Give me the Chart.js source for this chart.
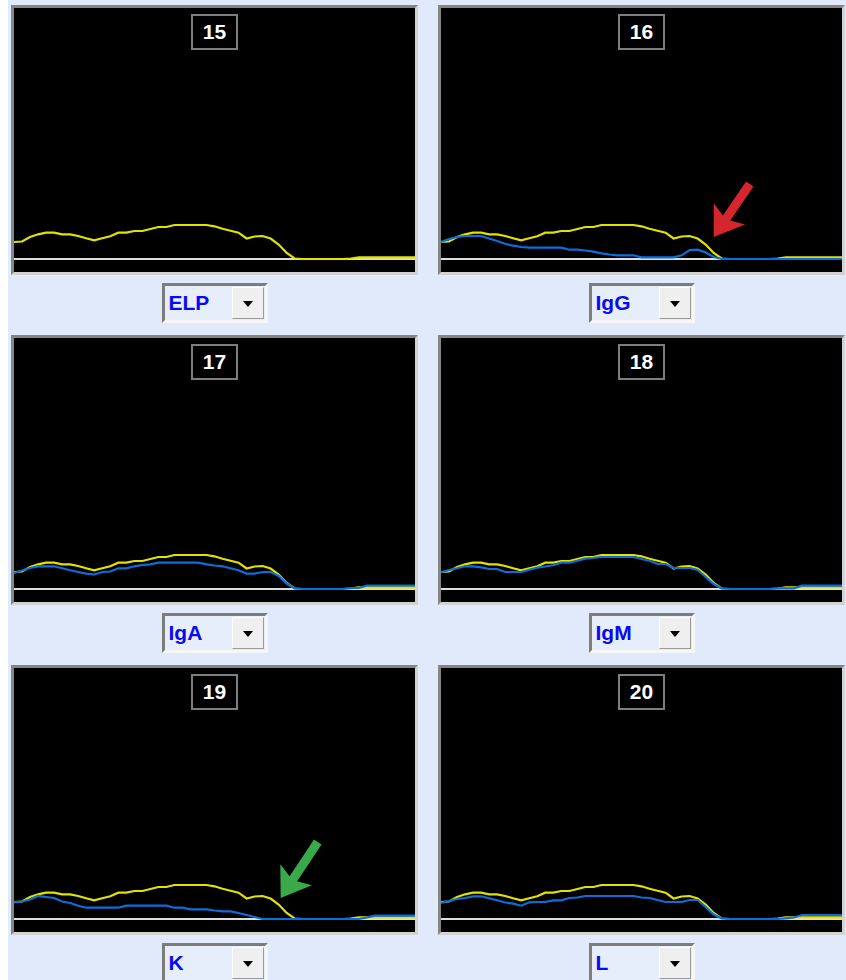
<!DOCTYPE html>
<html>
<head>
<meta charset="utf-8">
<script src="https://cdn.jsdelivr.net/npm/chart.js@4.4.1/dist/chart.umd.min.js"></script>
<style>
  html, body { margin: 0; padding: 0; background: #ffffff; }
  #board { position: absolute; left: 8px; top: 0; width: 838px; height: 980px; background: #e0eafa; overflow: hidden; }
  .frame { position: absolute; box-sizing: border-box; width: 407px; height: 270px;
           border: 3px solid; border-color: #858585 #d2d2d2 #d2d2d2 #858585; background: #000; }
  .frame canvas { position: absolute; left: 0; top: 0; }
  .num { position: absolute; top: 6px; left: 177px; width: 47px; height: 36px; box-sizing: border-box;
         border: 2px solid #7e7e7e; background: #000; color: #fff; text-align: center;
         font: bold 21px "Liberation Sans", Arial, sans-serif; line-height: 32px; }
  .select { position: absolute; width: 106px; height: 40px; box-sizing: border-box;
            border: 3px solid; border-color: #7d7d7d #f6f6f6 #f6f6f6 #7d7d7d; background: #e6eefc; }
  .select span { position: absolute; left: 4px; top: 4px; color: #0a0af0;
                 font: bold 21px "Liberation Sans", Arial, sans-serif; line-height: 26px; }
  .select .btn { position: absolute; right: 1px; top: 1px; width: 32px; height: 32px; box-sizing: border-box;
                 background: #efefef; border: 1px solid; border-color: #ffffff #9a9a9a #9a9a9a #ffffff; }
  .select .btn::after { content: ""; position: absolute; left: 10px; top: 13px; width: 0; height: 0;
                        border-left: 5px solid transparent; border-right: 5px solid transparent; border-top: 6px solid #000; }
</style>
</head>
<body>
<div id="board"></div>
<script>
// Densitometric scans along the migration axis (0 = application side, 400 = far end).
const mobility = [0, 8, 16, 24, 32, 40, 48, 56, 64, 72, 80, 88, 96, 104, 112, 120, 128, 136, 144, 152,
  160, 168, 176, 184, 192, 200, 208, 216, 224, 232, 240, 248, 256, 264, 272, 280, 288, 296, 304, 312,
  320, 328, 336, 344, 352, 360, 368, 376, 384, 392, 400];

// Reference electrophoresis (ELP) trace, overlaid in yellow on every lane.
const elpTrace = [17, 17.5, 22, 24.7, 26.3, 26.3, 24.7, 24.7, 23, 20.7, 18.7, 20.7, 22.7, 26.3, 26.3, 28, 28, 30, 32, 32,
  34, 34, 34, 34, 34, 32.7, 30.3, 28.3, 26.3, 20.5, 22.5, 23, 20.5, 14.5, 6, 0.5, 0, 0, 0, 0,
  0, 0, 0.5, 1.7, 1.7, 1.7, 1.7, 1.7, 1.7, 1.7, 1.7];

// Immunofixation lane traces (blue).
const igG = [17, 20, 22, 23, 23, 23, 20.5, 18, 15.3, 13.3, 12, 11.3, 11.3, 11.3, 11.3, 11.3, 9.3, 9.3, 8.5, 7.3,
  5.7, 4.5, 3.7, 3.7, 3.7, 1.7, 1.7, 1.7, 1.7, 1.7, 3.7, 9, 9.3, 6.5, 2, 0, 0, 0, 0, 0,
  0, 0, 0, 0, 0, 0, 0, 0, 0, 0, 0];
const igA = [16, 18.5, 21, 22.7, 22.7, 22.7, 20.7, 18.7, 17, 15.3, 14.5, 17, 17.5, 20.7, 20.7, 22.7, 24, 24.7, 26.3, 26.3,
  26.3, 26.3, 26.3, 26.3, 24.7, 23.5, 22.7, 20.7, 18.7, 15.3, 15.3, 17, 17, 13, 5.5, 0.5, 0, 0, 0, 0,
  0, 0, 1, 1, 3.5, 3.5, 3.5, 3.5, 3.5, 3.5, 3.5];
const igM = [16.7, 19, 20.7, 22.7, 22.7, 21.7, 20, 20, 17, 17, 17, 19.3, 21.3, 22.5, 23.7, 26.3, 26.3, 28.3, 30.3, 31,
  32, 32, 32, 32, 32, 30, 28.3, 25, 25, 21, 21, 21, 19, 12, 5, 0.5, 0, 0, 0, 0,
  0, 0, 0.7, 0.7, 0.7, 3.3, 3.3, 3.3, 3.3, 3.3, 3.3];
const kappa = [16.7, 17.5, 19.5, 23, 22, 21, 17.5, 16, 13.3, 11.3, 11.3, 11.3, 11.3, 11.3, 13.3, 13.3, 13.3, 13.3, 13.3, 13.3,
  11.3, 11.3, 9.7, 9.7, 9.7, 8.5, 7.7, 7.7, 6, 4, 2, 0, 0, 0, 0, 0, 0, 0, 0, 0,
  0, 0, 0, 0, 1.5, 3.3, 3.3, 3.3, 3.3, 3.3, 3.3];
const lambda = [16, 18, 20, 21, 22.7, 22.7, 20.7, 18.7, 16.5, 15.3, 13.3, 16.7, 17, 17, 18.7, 18.7, 21, 21.5, 23, 23,
  23, 23, 23, 23, 23, 21.5, 21, 19, 17, 17, 17, 19, 19, 12, 4.5, 0.5, 0, 0, 0, 0,
  0, 0, 0, 0.7, 1.5, 4, 4, 4, 4, 4, 4];

const laneNumbers = ['15', '16', '17', '18', '19', '20'];
const antisera = ['ELP', 'IgG', 'IgA', 'IgM', 'K', 'L'];
const laneTraces = [null, igG, igA, igM, kappa, lambda];

// Pointer arrows marking the restricted band (tip and tail in data units).
const pointers = {
  1: { tip: [272, 22], tail: [308, 75], color: '#d4262c' },
  4: { tip: [266, 21], tail: [303, 77], color: '#3aa94a' }
};

const PLOT_W = 401, PLOT_H = 264;

const pointerPlugin = {
  id: 'pointer',
  afterDatasetsDraw(chart, args, opts) {
    if (!opts || !opts.tip) return;
    const sx = chart.scales.x, sy = chart.scales.y;
    const tx = sx.getPixelForValue(opts.tip[0]), ty = sy.getPixelForValue(opts.tip[1]);
    const ax = sx.getPixelForValue(opts.tail[0]), ay = sy.getPixelForValue(opts.tail[1]);
    const dx = tx - ax, dy = ty - ay, len = Math.hypot(dx, dy);
    const ux = dx / len, uy = dy / len, px = -uy, py = ux;
    const headLen = 28, headHalf = 19, shaft = 4.5, notch = 5;
    const bx = tx - ux * headLen, by = ty - uy * headLen;
    const ctx = chart.ctx;
    ctx.save();
    ctx.fillStyle = opts.color;
    ctx.beginPath();
    ctx.moveTo(ax + px * shaft, ay + py * shaft);
    ctx.lineTo(bx + ux * notch + px * shaft, by + uy * notch + py * shaft);
    ctx.lineTo(bx + px * headHalf, by + py * headHalf);
    ctx.lineTo(tx, ty);
    ctx.lineTo(bx - px * headHalf, by - py * headHalf);
    ctx.lineTo(bx + ux * notch - px * shaft, by + uy * notch - py * shaft);
    ctx.lineTo(ax - px * shaft, ay - py * shaft);
    ctx.closePath();
    ctx.fill();
    ctx.restore();
  }
};

const board = document.getElementById('board');

laneNumbers.forEach((num, i) => {
  const col = i % 2, row = Math.floor(i / 2);
  const frameLeft = (col ? 430 : 3);
  const frameTop = 5 + row * 330;

  const frame = document.createElement('div');
  frame.className = 'frame';
  frame.style.left = frameLeft + 'px';
  frame.style.top = frameTop + 'px';
  const canvas = document.createElement('canvas');
  canvas.width = PLOT_W; canvas.height = PLOT_H;
  canvas.style.width = PLOT_W + 'px'; canvas.style.height = PLOT_H + 'px';
  frame.appendChild(canvas);
  const box = document.createElement('div');
  box.className = 'num';
  box.textContent = num;
  frame.appendChild(box);
  board.appendChild(frame);

  const sel = document.createElement('div');
  sel.className = 'select';
  sel.style.left = (frameLeft + 3 + PLOT_W / 2 - 53) + 'px';
  sel.style.top = (frameTop + 278) + 'px';
  const lab = document.createElement('span');
  lab.textContent = antisera[i];
  sel.appendChild(lab);
  const btn = document.createElement('div');
  btn.className = 'btn';
  sel.appendChild(btn);
  board.appendChild(sel);

  const datasets = [];
  if (laneTraces[i]) {
    datasets.push({ values: laneTraces[i], borderColor: '#0a6fdc', borderWidth: 2.2 });
  }
  datasets.push({ values: elpTrace, borderColor: '#e2e200', borderWidth: 2.2 });
  datasets.push({ values: mobility.map(() => 0), borderColor: '#dedede', borderWidth: 2 });

  new Chart(canvas, {
    type: 'line',
    data: {
      datasets: datasets.map(d => ({
        data: d.values.map((v, k) => ({ x: mobility[k], y: v })),
        borderColor: d.borderColor,
        borderWidth: d.borderWidth,
        pointRadius: 0, tension: 0, fill: false
      }))
    },
    options: {
      responsive: false,
      animation: false,
      devicePixelRatio: 1,
      layout: { padding: 0 },
      events: [],
      scales: {
        x: { type: 'linear', min: 0, max: 400, display: false },
        y: { type: 'linear', min: -13, max: 251, display: false }
      },
      plugins: {
        legend: { display: false },
        tooltip: { enabled: false },
        pointer: pointers[i] || {}
      }
    },
    plugins: [pointerPlugin]
  });
});
</script>
</body>
</html>
